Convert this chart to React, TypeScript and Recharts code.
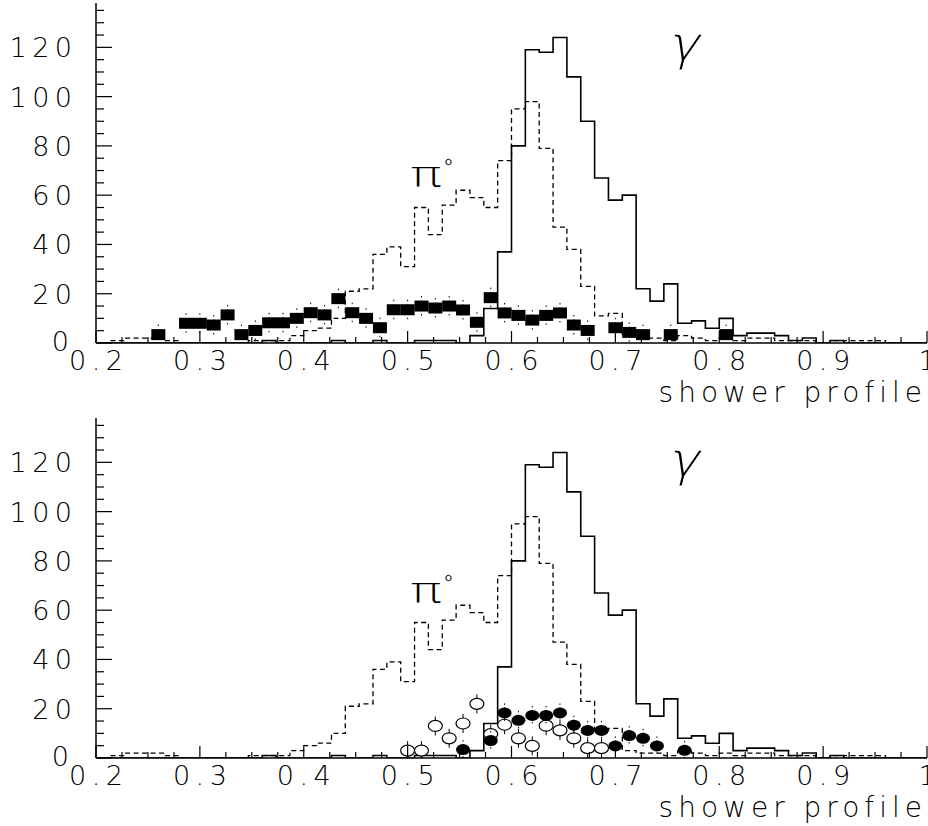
import { ComposedChart, Line, Scatter, XAxis, YAxis } from 'recharts';

// histogram binning: 60 bins between 0.2 and 1.0
const NBINS = 60;
const XMIN = 0.2;
const XMAX = 1.0;
const YMAX = 138;
const BIN_W = (XMAX - XMIN) / NBINS;

// gamma (solid histogram), counts per bin
const gammaCounts = [
  0, 0, 0, 0, 0, 0, 0, 0, 0, 0,
  0, 0, 1, 0, 0, 0, 0, 1, 0, 0,
  1, 0, 0, 1, 1, 1, 0, 3, 14, 37,
  80, 119, 118, 124, 108, 90, 67, 58, 60, 22,
  17, 24, 8, 9, 6, 10, 3, 4, 4, 3,
  1, 2, 0, 1, 0, 0, 0, 0, 0, 0,
];

// pi0 (dashed histogram), counts per bin
const pi0Counts = [
  0, 1, 2, 2, 2, 1, 0, 0, 0, 0,
  0, 1, 1, 1, 3, 5, 6, 10, 21, 22,
  36, 39, 31, 55, 44, 56, 62, 59, 55, 74,
  95, 98, 79, 47, 38, 23, 11, 12, 3, 2,
  2, 1, 3, 2, 1, 2, 1, 2, 2, 1,
  1, 1, 0, 1, 1, 1, 1, 0, 0, 0,
];

// top panel data (filled squares)
const squareBins = [4, 6, 7, 8, 9, 10, 11, 12, 13, 14, 15, 16, 17, 18, 19, 20, 21, 22, 23, 24, 25, 26, 27, 28, 29, 30, 31, 32, 33, 34, 35, 37, 38, 39, 41, 45];
const squareVals = [3.4, 8, 8, 7.3, 11.4, 3.4, 5.1, 8.2, 8.2, 10, 12.3, 11.4, 18, 12.3, 10, 6.2, 13.5, 13.5, 15, 14.2, 15, 13.4, 8.4, 18.4, 12.2, 11.2, 9.3, 11.2, 12.2, 7.3, 5.1, 6.2, 4.3, 3.4, 3.4, 3.4];

// bottom panel data (open circles)
const openBins = [22, 23, 24, 25, 26, 27, 28, 29, 30, 31, 32, 33, 34, 35, 36];
const openVals = [3, 3, 13, 8, 14, 22, 9.7, 13.5, 8, 4.9, 13.1, 11.2, 8, 4, 4];

// bottom panel data (filled circles)
const filledBins = [26, 28, 29, 30, 31, 32, 33, 34, 35, 36, 37, 38, 39, 40, 42];
const filledVals = [3.4, 7.1, 18.3, 15.3, 17.3, 17.3, 18.3, 13.3, 11.2, 11.2, 4.9, 9.1, 8, 4.9, 3.1];

// tick labels
const xLabels = ['0.2', '0.3', '0.4', '0.5', '0.6', '0.7', '0.8', '0.9', '1'];
const yLabels = [0, 20, 40, 60, 80, 100, 120];
const X_MINOR = 0.025;
const Y_MINOR = 5;

const stepData = Array.from({ length: NBINS + 1 }, (_, k) => ({
  x: XMIN + k * BIN_W,
  gamma: gammaCounts[Math.min(k, NBINS - 1)],
  pi0: pi0Counts[Math.min(k, NBINS - 1)],
}));

const toPoints = (bins: number[], vals: number[]) =>
  bins.map((b, i) => ({ x: XMIN + (b + 0.5) * BIN_W, y: vals[i] }));

const squares = toPoints(squareBins, squareVals);
const openCircles = toPoints(openBins, openVals);
const filledCircles = toPoints(filledBins, filledVals);

const xTicks = Array.from({ length: Math.round((XMAX - XMIN) / X_MINOR) + 1 }, (_, i) => XMIN + i * X_MINOR);
const yTicks = Array.from({ length: Math.floor(YMAX / Y_MINOR) + 1 }, (_, i) => i * Y_MINOR);

const LS = 5.5;
const tickFont = {
  fontFamily: '"DejaVu Sans", sans-serif',
  fontWeight: 200,
  fontSize: 27,
  letterSpacing: LS,
  fill: '#000',
};

function XTick(props: any) {
  const { x, y, payload } = props;
  const pos = (payload.value - XMIN) / 0.1;
  const major = Math.abs(pos - Math.round(pos)) < 1e-6;
  const label = major ? xLabels[Math.round(pos)] : null;
  return (
    <g>
      <line x1={x} x2={x} y1={y} y2={y - (major ? 12 : 6)} stroke="#000" strokeWidth={1.2} />
      {label && (
        <text x={x + LS / 2} y={y + 27} textAnchor="middle" style={tickFont}>
          {label}
        </text>
      )}
    </g>
  );
}

function YTick(props: any) {
  const { x, y, payload } = props;
  const major = payload.value % 20 === 0;
  const isZero = payload.value === 0;
  return (
    <g>
      <line x1={x} x2={x + (major ? 16 : 8)} y1={y} y2={y} stroke="#000" strokeWidth={1.2} />
      {major && yLabels.includes(payload.value) && (
        <text x={x - (isZero ? 27 : 24) + LS} y={y + (isZero ? 8 : 10)} textAnchor="end" style={tickFont}>
          {payload.value}
        </text>
      )}
    </g>
  );
}

const SquareMark = (p: any) => (
  <g>
    <line x1={p.cx} x2={p.cx} y1={p.cy - 10} y2={p.cy + 10} stroke="#000" strokeWidth={1} strokeDasharray="1.5 3" />
    <rect x={p.cx - 7} y={p.cy - 5.5} width={14} height={11} fill="#000" />
  </g>
);

const OpenMark = (p: any) => (
  <g>
    <line x1={p.cx} x2={p.cx} y1={p.cy - 9.5} y2={p.cy + 9.5} stroke="#000" strokeWidth={1} />
    <ellipse cx={p.cx} cy={p.cy} rx={7} ry={5.5} fill="#fff" stroke="#000" strokeWidth={1.2} />
  </g>
);

const FilledMark = (p: any) => (
  <g>
    <line x1={p.cx} x2={p.cx} y1={p.cy - 9.5} y2={p.cy + 9.5} stroke="#000" strokeWidth={1} strokeDasharray="1.5 2.5" />
    <ellipse cx={p.cx} cy={p.cy} rx={7} ry={5.5} fill="#000" />
  </g>
);

const axisLineStyle = { stroke: '#000', strokeWidth: 1.5 };

function AxisTitle(p: any) {
  const vb = p.viewBox;
  return (
    <text x={vb.x + vb.width} y={vb.y + 59} textAnchor="end" style={{ ...tickFont, fontSize: 28, letterSpacing: 5 }}>
      shower profile
    </text>
  );
}

function Panel({ bottom, height }: { bottom: boolean; height: number }) {
  return (
    <ComposedChart width={928} height={height} margin={{ top: 3, right: 1, bottom: 0, left: 0 }}>
      <XAxis
        dataKey="x"
        type="number"
        domain={[XMIN, XMAX]}
        ticks={xTicks}
        interval={0}
        tick={<XTick />}
        tickLine={false}
        tickSize={0}
        tickMargin={0}
        axisLine={axisLineStyle}
        height={height - 343}
        allowDataOverflow
        label={{ content: <AxisTitle /> }}
      />
      <XAxis xAxisId="t" orientation="top" type="number" domain={[XMIN, XMAX]} height={0} tick={false} tickLine={false} axisLine={axisLineStyle} />
      <YAxis
        type="number"
        domain={[0, YMAX]}
        ticks={yTicks}
        interval={0}
        tick={<YTick />}
        tickLine={false}
        tickSize={0}
        tickMargin={0}
        width={96}
        axisLine={axisLineStyle}
        allowDataOverflow
      />
      <YAxis yAxisId="r" orientation="right" type="number" domain={[0, YMAX]} width={0} tick={false} tickLine={false} axisLine={axisLineStyle} />
      <Line data={stepData} dataKey="pi0" type="stepAfter" stroke="#000" strokeWidth={1.3} strokeDasharray="5 3.5" dot={false} isAnimationActive={false} />
      <Line data={stepData} dataKey="gamma" type="stepAfter" stroke="#000" strokeWidth={1.6} dot={false} isAnimationActive={false} />
      {!bottom && <Scatter data={squares} dataKey="y" shape={<SquareMark />} isAnimationActive={false} />}
      {bottom && <Scatter data={openCircles} dataKey="y" shape={<OpenMark />} isAnimationActive={false} />}
      {bottom && <Scatter data={filledCircles} dataKey="y" shape={<FilledMark />} isAnimationActive={false} />}
    </ComposedChart>
  );
}

const gammaFont = { fontFamily: '"DejaVu Sans", sans-serif', fontWeight: 200, fontSize: 46, fill: '#000' };
const piFont = { fontFamily: '"DejaVu Sans", sans-serif', fontWeight: 200, fontSize: 36, fill: '#000' };

function Greek({ gy, py }: { gy: number; py: number }) {
  return (
    <g>
      <g transform={`translate(668 ${gy}) skewX(-14)`}>
        <text x={0} y={0} textLength={30} lengthAdjust="spacingAndGlyphs" style={gammaFont}>γ</text>
      </g>
      <text x={410} y={py} textLength={32} lengthAdjust="spacingAndGlyphs" style={piFont}>π</text>
      <circle cx={448.5} cy={py - 25} r={2.7} fill="none" stroke="#000" strokeWidth={1} />
    </g>
  );
}

export default function App() {
  return (
    <div style={{ position: 'absolute', left: 0, top: 0, width: 928, height: 826, background: '#fff' }}>
      <div style={{ position: 'absolute', left: 0, top: 0 }}>
        <Panel bottom={false} height={413} />
      </div>
      <div style={{ position: 'absolute', left: 0, top: 415 }}>
        <Panel bottom={true} height={411} />
      </div>
      <svg width={928} height={826} style={{ position: 'absolute', left: 0, top: 0, pointerEvents: 'none' }}>
        <Greek gy={60} py={187} />
        <Greek gy={476} py={603} />
      </svg>
    </div>
  );
}
